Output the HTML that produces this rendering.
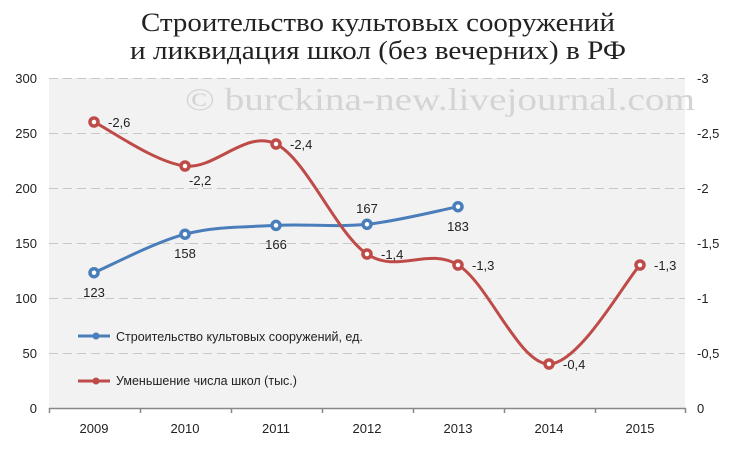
<!DOCTYPE html><html><head><meta charset="utf-8"><style>body{margin:0;background:#fff}</style></head><body>
<svg width="740" height="446" xmlns="http://www.w3.org/2000/svg" font-family="Liberation Sans, sans-serif">
<rect width="740" height="446" fill="#fff"/>
<text x="378" y="31" text-anchor="middle" font-family="Liberation Serif, serif" font-size="26" fill="#222" textLength="474" lengthAdjust="spacingAndGlyphs">Строительство культовых сооружений</text>
<text x="378" y="59" text-anchor="middle" font-family="Liberation Serif, serif" font-size="26" fill="#222" textLength="496" lengthAdjust="spacingAndGlyphs">и ликвидация школ (без вечерних) в РФ</text>
<rect x="49" y="78" width="636" height="330" fill="#f2f2f2"/>
<g stroke="#c8c8c8" stroke-dasharray="9,5" stroke-width="1">
<line x1="49" y1="78.5" x2="685" y2="78.5"/><line x1="49" y1="133.5" x2="685" y2="133.5"/><line x1="49" y1="188.5" x2="685" y2="188.5"/><line x1="49" y1="243.5" x2="685" y2="243.5"/><line x1="49" y1="298.5" x2="685" y2="298.5"/><line x1="49" y1="353.5" x2="685" y2="353.5"/>
</g>
<text x="185" y="110" font-family="Liberation Serif, serif" font-size="32" fill="#d4d4d4" textLength="510" lengthAdjust="spacingAndGlyphs">© burckina-new.livejournal.com</text>
<line x1="49" y1="408.5" x2="686" y2="408.5" stroke="#888" stroke-width="1.5"/>
<g stroke="#888" stroke-width="1.5"><line x1="49.5" y1="408" x2="49.5" y2="413"/><line x1="140.5" y1="408" x2="140.5" y2="413"/><line x1="231.5" y1="408" x2="231.5" y2="413"/><line x1="322.5" y1="408" x2="322.5" y2="413"/><line x1="413.5" y1="408" x2="413.5" y2="413"/><line x1="504.5" y1="408" x2="504.5" y2="413"/><line x1="595.5" y1="408" x2="595.5" y2="413"/><line x1="685.5" y1="408" x2="685.5" y2="413"/></g>
<g font-size="13" fill="#222" text-anchor="end">
<text x="37" y="83">300</text><text x="37" y="138">250</text><text x="37" y="193">200</text><text x="37" y="248">150</text><text x="37" y="303">100</text><text x="37" y="358">50</text><text x="37" y="413">0</text></g>
<g font-size="13" fill="#222"><text x="697" y="83">-3</text><text x="697" y="138">-2,5</text><text x="697" y="193">-2</text><text x="697" y="248">-1,5</text><text x="697" y="303">-1</text><text x="697" y="358">-0,5</text><text x="697" y="413">0</text></g>
<g font-size="13" fill="#222" text-anchor="middle"><text x="94" y="433">2009</text><text x="185" y="433">2010</text><text x="276" y="433">2011</text><text x="367" y="433">2012</text><text x="458" y="433">2013</text><text x="549" y="433">2014</text><text x="640" y="433">2015</text></g>
<path d="M94,272.7 C109.2,266.3 154.7,242.1 185,234.2 C215.3,226.3 245.7,227.1 276,225.4 C306.3,223.8 336.7,227.4 367,224.3 C397.3,221.2 442.8,209.6 458,206.7" fill="none" stroke="#4a7ebb" stroke-width="3"/>
<path d="M94,122 C109.2,129.3 154.7,162.3 185,166 C215.3,169.7 245.7,129.3 276,144 C306.3,158.7 336.7,233.8 367,254 C397.3,274.2 427.7,246.7 458,265 C488.3,283.3 518.7,364 549,364 C579.3,364 624.8,281.5 640,265" fill="none" stroke="#be4b48" stroke-width="3"/>
<g fill="#fff" stroke="#4a7ebb" stroke-width="3.5"><circle cx="94" cy="272.7" r="4"/><circle cx="185" cy="234.2" r="4"/><circle cx="276" cy="225.4" r="4"/><circle cx="367" cy="224.3" r="4"/><circle cx="458" cy="206.7" r="4"/></g>
<g fill="#fff" stroke="#be4b48" stroke-width="3.5"><circle cx="94" cy="122" r="4"/><circle cx="185" cy="166" r="4"/><circle cx="276" cy="144" r="4"/><circle cx="367" cy="254" r="4"/><circle cx="458" cy="265" r="4"/><circle cx="549" cy="364" r="4"/><circle cx="640" cy="265" r="4"/></g>
<g font-size="13" fill="#222"><text x="108" y="127">-2,6</text><text x="189" y="185">-2,2</text><text x="290" y="149">-2,4</text><text x="381" y="259">-1,4</text><text x="472" y="270">-1,3</text><text x="563" y="369">-0,4</text><text x="654" y="270">-1,3</text></g>
<g font-size="13" fill="#222" text-anchor="middle"><text x="94" y="297">123</text><text x="185" y="258">158</text><text x="276" y="249">166</text><text x="367" y="213">167</text><text x="458" y="231">183</text></g>
<line x1="78" y1="336" x2="110" y2="336" stroke="#4a7ebb" stroke-width="3"/><circle cx="96" cy="336" r="3.5" fill="#4a7ebb"/>
<line x1="78" y1="381" x2="110" y2="381" stroke="#be4b48" stroke-width="3"/><circle cx="96" cy="381" r="3.5" fill="#be4b48"/>
<g font-size="12.5" fill="#222"><text x="116" y="341">Строительство культовых сооружений, ед.</text><text x="116" y="385">Уменьшение числа школ (тыс.)</text></g>
</svg></body></html>
